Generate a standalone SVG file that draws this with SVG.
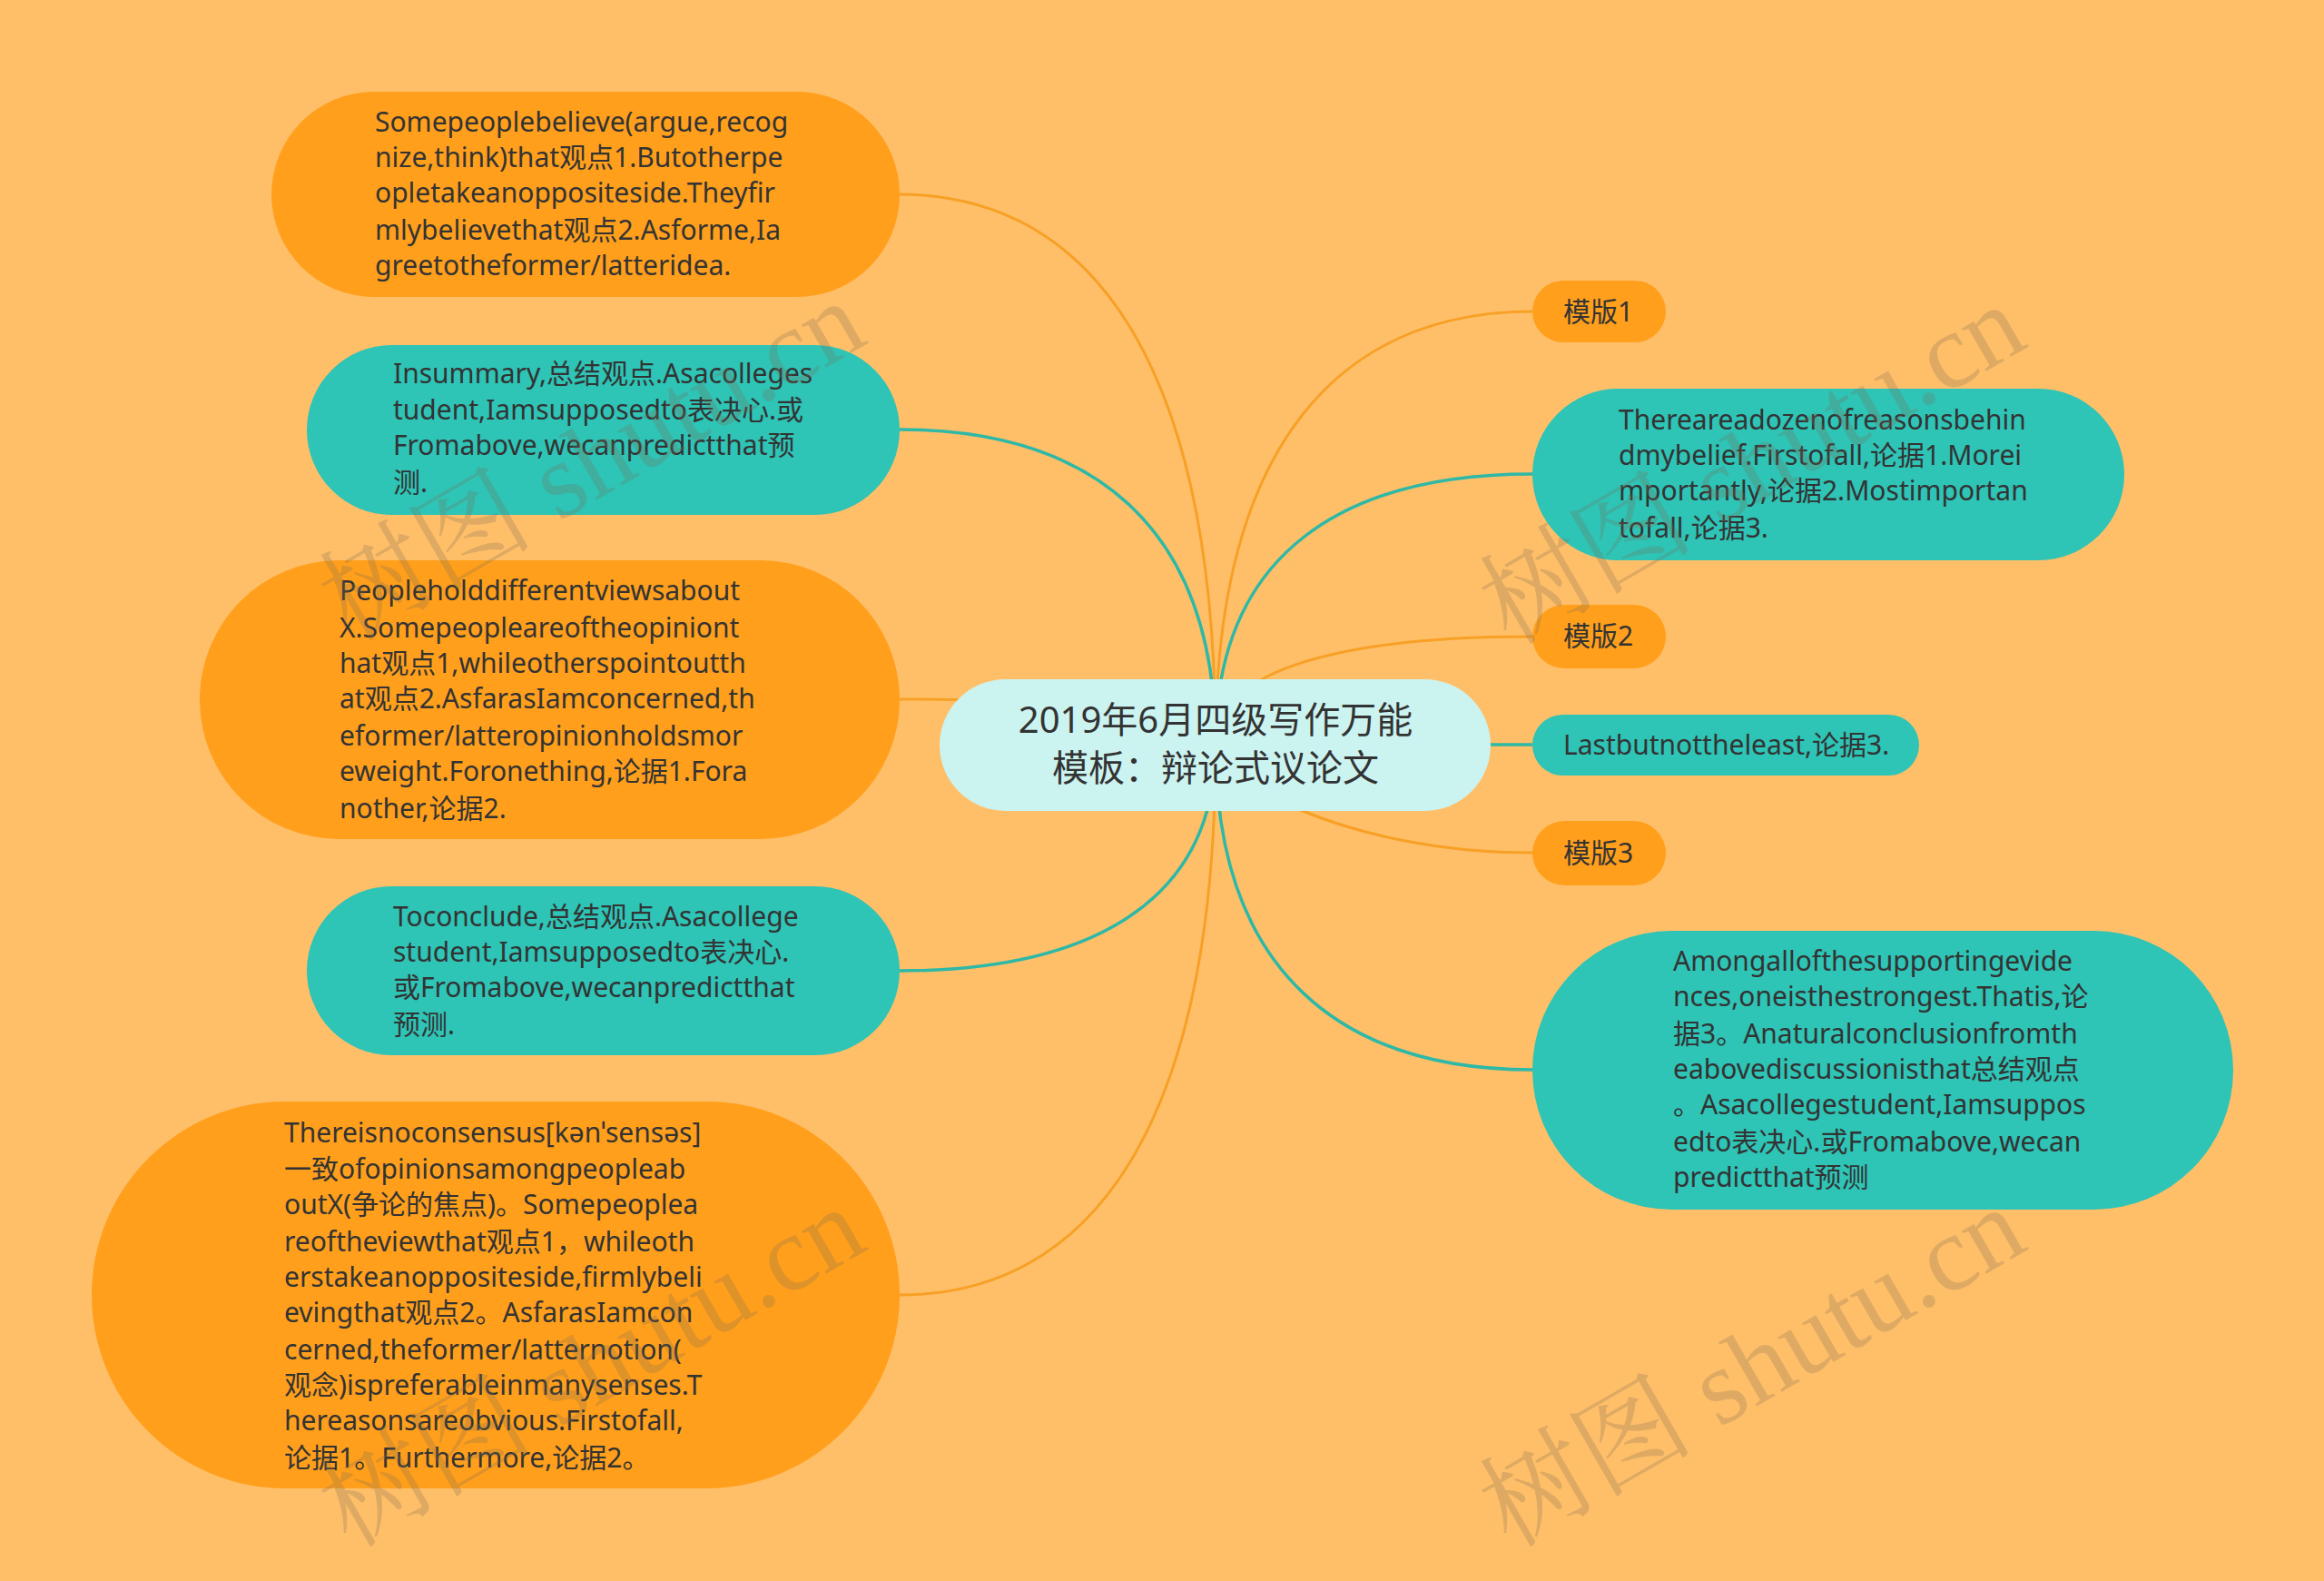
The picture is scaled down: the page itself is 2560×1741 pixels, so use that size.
<svg xmlns="http://www.w3.org/2000/svg" width="2560" height="1741" viewBox="0 0 2560 1741">
<style>
.bg{fill:#FFBF69}
.orange{fill:#FF9F1C}
.teal{fill:#2EC4B6}
.center{fill:#CBF3F0}
.t{font-family:"Noto Sans","Noto Sans CJK SC",sans-serif;font-size:30px;fill:#333333}
.tc{font-family:"Noto Sans","Noto Sans CJK SC",sans-serif;font-size:40px;fill:#333333;text-anchor:middle}
.lo{fill:none;stroke:#F7A025;stroke-width:3}
.lt{fill:none;stroke:#2EB8A6;stroke-width:3.5}
.wm{font-family:"Liberation Serif","Noto Serif CJK SC","Noto Sans CJK SC",serif;font-size:118px;fill:#7a6a55;fill-opacity:0.25;text-anchor:middle}
</style>
<rect class="bg" x="0" y="0" width="2560" height="1741"/>
<g id="connectors">
<path class="lo" d="M991,214 C1200,214 1339,396 1339,820"/>
<path class="lt" d="M991,473 C1200,473 1339,577 1339,820"/>
<path class="lo" d="M991,770 C1200,770 1339,785 1339,820"/>
<path class="lt" d="M991,1069 C1200,1069 1339,994 1339,820"/>
<path class="lo" d="M991,1426 C1200,1426 1339,1244 1339,820"/>
<path class="lo" d="M1688,343 C1479,343 1339,486 1339,820"/>
<path class="lt" d="M1688,522 C1479,522 1339,610 1339,820"/>
<path class="lo" d="M1688,701 C1479,701 1339,737 1339,820"/>
<path class="lt" d="M1688,820 L1339,820"/>
<path class="lo" d="M1688,939 C1479,939 1339,856 1339,820"/>
<path class="lt" d="M1688,1178 C1479,1178 1339,1071 1339,820"/>
</g>
<g id="node-a">
<rect class="orange" x="299" y="101" width="692" height="226" rx="113"/>
<text class="t"><tspan x="413" y="145">Somepeoplebelieve(argue,recog</tspan><tspan x="413" y="184">nize,think)that观点1.Butotherpe</tspan><tspan x="413" y="223">opletakeanoppositeside.Theyfir</tspan><tspan x="413" y="264">mlybelievethat观点2.Asforme,Ia</tspan><tspan x="413" y="303">greetotheformer/latteridea.</tspan></text>
</g>
<g id="node-b">
<rect class="teal" x="338" y="380" width="653" height="187" rx="93.5"/>
<text class="t"><tspan x="433" y="422">Insummary,总结观点.Asacolleges</tspan><tspan x="433" y="462">tudent,Iamsupposedto表决心.或</tspan><tspan x="433" y="501">Fromabove,wecanpredictthat预</tspan><tspan x="433" y="542">测.</tspan></text>
</g>
<g id="node-c">
<rect class="orange" x="220" y="617" width="771" height="307" rx="153.5"/>
<text class="t"><tspan x="374" y="661">Peopleholddifferentviewsabout</tspan><tspan x="374" y="702">X.Somepeopleareoftheopiniont</tspan><tspan x="374" y="741">hat观点1,whileotherspointoutth</tspan><tspan x="374" y="780">at观点2.AsfarasIamconcerned,th</tspan><tspan x="374" y="821">eformer/latteropinionholdsmor</tspan><tspan x="374" y="860">eweight.Foronething,论据1.Fora</tspan><tspan x="374" y="901">nother,论据2.</tspan></text>
</g>
<g id="node-d">
<rect class="teal" x="338" y="976" width="653" height="186" rx="93"/>
<text class="t"><tspan x="433" y="1020">Toconclude,总结观点.Asacollege</tspan><tspan x="433" y="1059">student,Iamsupposedto表决心.</tspan><tspan x="433" y="1098">或Fromabove,wecanpredictthat</tspan><tspan x="433" y="1139">预测.</tspan></text>
</g>
<g id="node-e">
<rect class="orange" x="101" y="1213" width="890" height="426" rx="213"/>
<text class="t"><tspan x="313" y="1258">Thereisnoconsensus[kənˈsensəs]</tspan><tspan x="313" y="1298">一致ofopinionsamongpeopleab</tspan><tspan x="313" y="1337">outX(争论的焦点)。Somepeoplea</tspan><tspan x="313" y="1378">reoftheviewthat观点1，whileoth</tspan><tspan x="313" y="1417">erstakeanoppositeside,firmlybeli</tspan><tspan x="313" y="1456">evingthat观点2。AsfarasIamcon</tspan><tspan x="313" y="1497">cerned,theformer/latternotion(</tspan><tspan x="313" y="1536">观念)ispreferableinmanysenses.T</tspan><tspan x="313" y="1575">hereasonsareobvious.Firstofall,</tspan><tspan x="313" y="1616">论据1。Furthermore,论据2。</tspan></text>
</g>
<g id="node-center">
<rect class="center" x="1035" y="748" width="607" height="145" rx="72.5"/>
<text class="tc"><tspan x="1339" y="807">2019年6月四级写作万能</tspan><tspan x="1339" y="860">模板：辩论式议论文</tspan></text>
</g>
<g id="node-m1">
<rect class="orange" x="1688" y="309" width="147" height="68" rx="34"/>
<text class="t" x="1722" y="354">模版1</text>
</g>
<g id="node-f">
<rect class="teal" x="1688" y="428" width="652" height="189" rx="94.5"/>
<text class="t"><tspan x="1783" y="473">Thereareadozenofreasonsbehin</tspan><tspan x="1783" y="512">dmybelief.Firstofall,论据1.Morei</tspan><tspan x="1783" y="551">mportantly,论据2.Mostimportan</tspan><tspan x="1783" y="592">tofall,论据3.</tspan></text>
</g>
<g id="node-m2">
<rect class="orange" x="1688" y="666" width="147" height="70" rx="35"/>
<text class="t" x="1722" y="711">模版2</text>
</g>
<g id="node-last">
<rect class="teal" x="1688" y="787" width="426" height="67" rx="33.5"/>
<text class="t" x="1722" y="831">Lastbutnottheleast,论据3.</text>
</g>
<g id="node-m3">
<rect class="orange" x="1688" y="904" width="147" height="71" rx="35.5"/>
<text class="t" x="1722" y="950">模版3</text>
</g>
<g id="node-g">
<rect class="teal" x="1688" y="1025" width="772" height="307" rx="153.5"/>
<text class="t"><tspan x="1843" y="1069">Amongallofthesupportingevide</tspan><tspan x="1843" y="1108">nces,oneisthestrongest.Thatis,论</tspan><tspan x="1843" y="1149">据3。Anaturalconclusionfromth</tspan><tspan x="1843" y="1188">eabovediscussionisthat总结观点</tspan><tspan x="1843" y="1227">。Asacollegestudent,Iamsuppos</tspan><tspan x="1843" y="1268">edto表决心.或Fromabove,wecan</tspan><tspan x="1843" y="1307">predictthat预测</tspan></text>
</g>
<g id="watermarks">
<text class="wm" transform="translate(672,542) rotate(-30)">树图 shutu.cn</text>
<text class="wm" transform="translate(672,1540) rotate(-30)">树图 shutu.cn</text>
<text class="wm" transform="translate(1950,546) rotate(-30)">树图 shutu.cn</text>
<text class="wm" transform="translate(1950,1540) rotate(-30)">树图 shutu.cn</text>
</g>
</svg>
